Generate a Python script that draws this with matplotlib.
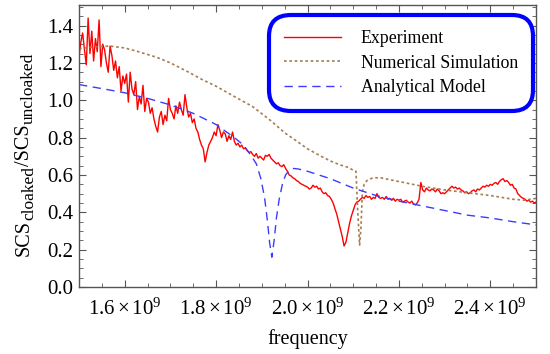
import numpy as np
import matplotlib
matplotlib.use('Agg')
import matplotlib.pyplot as plt
from matplotlib.ticker import MultipleLocator, FuncFormatter
from matplotlib.transforms import IdentityTransform

plt.rcParams['font.family'] = ['Liberation Serif', 'DejaVu Serif']
plt.rcParams['mathtext.fontset'] = 'custom'
plt.rcParams['mathtext.rm'] = 'Liberation Serif'
plt.rcParams['mathtext.it'] = 'Liberation Serif:italic'

# experiment, sampled evenly from 1.5 GHz to 2.5 GHz
exp_vals = [
    1.23, 1.31, 1.36, 1.27, 1.19, 1.44, 1.25, 1.37, 1.21, 1.33,
    1.26, 1.43, 1.18, 1.30, 1.27, 1.20, 1.15, 1.29, 1.24, 1.16,
    1.21, 1.12, 1.18, 1.05, 1.13, 1.09, 1.14, 0.99, 1.15, 1.06,
    1.03, 1.10, 0.95, 1.02, 0.98, 1.08, 0.94, 1.01, 0.99, 0.93,
    0.96, 0.90, 0.86, 0.83, 0.91, 0.94, 0.87, 0.92, 0.89, 1.01,
    0.95, 0.93, 0.90, 0.97, 0.93, 0.99, 0.95, 0.92, 1.03, 0.96,
    0.91, 0.93, 0.88, 0.90, 0.85, 0.83, 0.79, 0.76, 0.74, 0.67,
    0.72, 0.76, 0.78, 0.80, 0.83, 0.81, 0.87, 0.84, 0.80, 0.83,
    0.82, 0.78, 0.81, 0.79, 0.83, 0.78, 0.76, 0.77, 0.75, 0.76,
    0.74, 0.745, 0.73, 0.72, 0.725, 0.71, 0.70, 0.715, 0.69, 0.70,
    0.69, 0.68, 0.705, 0.70, 0.71, 0.69, 0.68, 0.67, 0.66, 0.665,
    0.65, 0.645, 0.655, 0.635, 0.62, 0.60, 0.595, 0.585, 0.58, 0.57,
    0.565, 0.555, 0.55, 0.545, 0.54, 0.535, 0.525, 0.53, 0.545, 0.535,
    0.54, 0.525, 0.53, 0.51, 0.50, 0.505, 0.49, 0.485, 0.47, 0.45,
    0.42, 0.39, 0.35, 0.31, 0.27, 0.22, 0.24, 0.29, 0.34, 0.38,
    0.41, 0.44, 0.455, 0.46, 0.47, 0.48, 0.475, 0.49, 0.48, 0.485,
    0.47, 0.48, 0.475, 0.50, 0.48, 0.475, 0.48, 0.47, 0.485, 0.47,
    0.475, 0.465, 0.475, 0.46, 0.47, 0.465, 0.47, 0.455, 0.46, 0.465,
    0.455, 0.45, 0.46, 0.445, 0.44, 0.45, 0.47, 0.56, 0.52, 0.51,
    0.53, 0.52, 0.515, 0.525, 0.52, 0.51, 0.525, 0.515, 0.50, 0.505,
    0.50, 0.51, 0.52, 0.53, 0.54, 0.53, 0.535, 0.525, 0.53, 0.52,
    0.515, 0.505, 0.51, 0.50, 0.505, 0.515, 0.52, 0.51, 0.525, 0.52,
    0.53, 0.54, 0.535, 0.545, 0.54, 0.55, 0.545, 0.555, 0.56, 0.55,
    0.565, 0.575, 0.58, 0.565, 0.57, 0.56, 0.545, 0.55, 0.53, 0.525,
    0.50, 0.49, 0.48, 0.475, 0.47, 0.46, 0.465, 0.455, 0.46, 0.45,
    0.455,
]
exp_freq = np.linspace(1.5e9, 2.5e9, len(exp_vals))

# numerical simulation
sim_freq = [1.50, 1.53, 1.567, 1.60, 1.63, 1.67, 1.70, 1.74, 1.77, 1.80,
            1.84, 1.88, 1.92, 1.95, 1.98, 2.00, 2.03, 2.05, 2.07, 2.09,
            2.10, 2.106, 2.110, 2.114, 2.117, 2.120, 2.124, 2.13, 2.143, 2.16,
            2.20, 2.25, 2.30, 2.35, 2.40, 2.45, 2.475, 2.50]
sim_vals = [1.275, 1.285, 1.29, 1.28, 1.26, 1.23, 1.20, 1.15, 1.11, 1.075,
            1.02, 0.966, 0.89, 0.826, 0.775, 0.74, 0.70, 0.675, 0.655, 0.64,
            0.625, 0.62, 0.40, 0.225, 0.32, 0.51, 0.55, 0.57, 0.585, 0.585,
            0.565, 0.54, 0.52, 0.505, 0.49, 0.47, 0.465, 0.475]

# analytical model
mod_freq = [1.50, 1.56, 1.60, 1.65, 1.70, 1.75, 1.80, 1.84, 1.86, 1.875,
            1.888, 1.898, 1.906, 1.912, 1.917, 1.922, 1.927, 1.932, 1.938, 1.945,
            1.952, 1.96, 1.97, 1.98, 2.00, 2.05, 2.10, 2.15, 2.20, 2.25,
            2.30, 2.35, 2.40, 2.45, 2.50]
mod_vals = [1.084, 1.058, 1.04, 1.01, 0.975, 0.93, 0.87, 0.80, 0.76, 0.71,
            0.66, 0.58, 0.48, 0.36, 0.24, 0.16, 0.25, 0.37, 0.47, 0.55,
            0.60, 0.625, 0.635, 0.632, 0.62, 0.58, 0.53, 0.49, 0.46, 0.435,
            0.41, 0.385, 0.37, 0.35, 0.333]

fig = plt.figure(figsize=(5.5, 3.54), dpi=100)
ax = fig.add_axes([0.1436, 0.189, 0.831, 0.797])

ax.plot(exp_freq, exp_vals, color='#ff0000', lw=1.0, label='Experiment')
ax.plot(np.array(sim_freq) * 1e9, sim_vals, color='#a67c52', lw=1.2,
        linestyle=(0, (1.6, 1.6)), label='Numerical Simulation')
ax.plot(np.array(mod_freq) * 1e9, mod_vals, color='#3c3cff', lw=1.0,
        linestyle=(0, (6, 4)), label='Analytical Model')

ax.set_xlim(1.5e9, 2.5e9)
ax.set_ylim(0, 1.51)

ax.xaxis.set_major_locator(MultipleLocator(0.2e9))
ax.xaxis.set_minor_locator(MultipleLocator(0.05e9))
ax.yaxis.set_major_locator(MultipleLocator(0.2))
ax.yaxis.set_minor_locator(MultipleLocator(0.05))
ax.xaxis.set_major_formatter(FuncFormatter(lambda v, p: r'$%.1f\times10^{9}$' % (v / 1e9)))
ax.yaxis.set_major_formatter(FuncFormatter(lambda v, p: '%.1f' % v))

ax.tick_params(which='both', direction='in', top=True, right=True,
               color='#555555', labelsize=15)
ax.tick_params(axis='y', pad=4)
ax.tick_params(axis='x', pad=8)
ax.tick_params(which='major', length=5)
ax.tick_params(which='minor', length=3)
for s in ax.spines.values():
    s.set_color('#555555')
    s.set_linewidth(1.0)

ax.set_xlabel('frequency', fontsize=14.5, labelpad=7)

# y label built from pieces so the subscripts stay large, as in the original
pieces = [('SCS', 14.5, 0), ('cloaked', 12.5, 4), ('/SCS', 14.5, 0), ('uncloaked', 12.5, 4)]
renderer = fig.canvas.get_renderer()
texts = []
total = 0
for s, fs, dx in pieces:
    t = fig.text(0, 0, s, fontsize=fs, rotation=90, rotation_mode='anchor',
                 ha='left', va='baseline', transform=IdentityTransform())
    h = t.get_window_extent(renderer).height
    texts.append((t, dx, h))
    total += h
y0 = 200 - total / 2
for t, dx, h in texts:
    t.set_position((29 + dx, y0))
    y0 += h

leg = ax.legend(loc='upper right', bbox_to_anchor=(0.982, 0.945), borderaxespad=0,
                fontsize=12.8, handlelength=3.2, handletextpad=1.1,
                labelspacing=0.42, borderpad=0.55, fancybox=True, framealpha=1)
frame = leg.get_frame()
frame.set_edgecolor('#0000ff')
frame.set_linewidth(3.0)
frame.set_boxstyle('round', pad=0.3, rounding_size=1.2)

fig.savefig('out.png', dpi=100)
